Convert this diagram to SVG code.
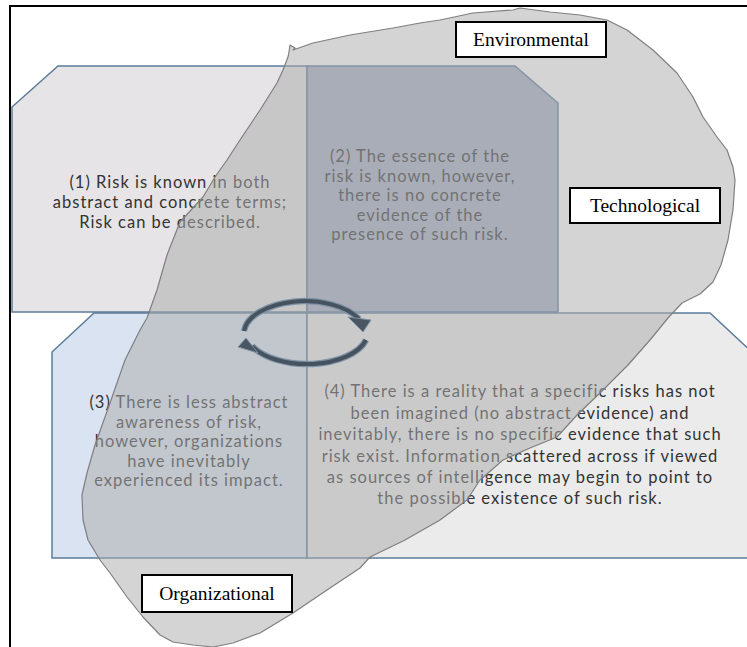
<svg xmlns="http://www.w3.org/2000/svg" width="747" height="647" viewBox="0 0 747 647">
  <defs>
    <style>
      .box { stroke: #5b7b9b; stroke-width: 1.5; }
      .body { font-family: "Lato", "Open Sans", sans-serif; font-size: 16.5px; letter-spacing: 1px; fill: #333333; text-anchor: middle; }
      .lbl rect { fill: #ffffff; stroke: #000000; stroke-width: 2; }
      .lbl text { font-family: "Liberation Serif", "Times New Roman", serif; font-size: 19.5px; fill: #000000; text-anchor: middle; }
      .arc { fill: none; stroke-linecap: butt; }
      .arc-out { stroke: #7d92a6; stroke-width: 6.5; }
      .arc-in { stroke: #46525e; stroke-width: 4; }
      .head { fill: #4a5763; stroke: #7d92a6; stroke-width: 1; }
    </style>
  </defs>
  <rect x="0" y="0" width="747" height="647" fill="#ffffff"/>
  <g id="frame" fill="none" stroke="#000000" stroke-width="2">
    <path d="M10,647 L10,6 L747,6"/>
  </g>

  <g id="node-q1">
    <polygon class="box" points="58,66 307,66 307,312 12,312 12,107" fill="#e6e4e6"/>
    <text class="body"><tspan x="170" y="188">(1) Risk is known in both</tspan><tspan x="170" y="208">abstract and concrete terms;</tspan><tspan x="170" y="228">Risk can be described.</tspan></text>
  </g>
  <g id="node-q2">
    <polygon class="box" points="307,66 515,66 558,103 558,312 307,312" fill="#a5adc4"/>
    <text class="body"><tspan x="420" y="162">(2) The essence of the</tspan><tspan x="420" y="181.5">risk is known, however,</tspan><tspan x="420" y="201">there is no concrete</tspan><tspan x="420" y="220.5">evidence of the</tspan><tspan x="420" y="240">presence of such risk.</tspan></text>
  </g>
  <g id="node-q3">
    <polygon class="box" points="94,313 307,313 307,558 52,558 52,352" fill="#dae3f1"/>
    <text class="body"><tspan x="189" y="408">(3) There is less abstract</tspan><tspan x="189" y="427.5">awareness of risk,</tspan><tspan x="189" y="447">however, organizations</tspan><tspan x="189" y="466.5">have inevitably</tspan><tspan x="189" y="486">experienced its impact.</tspan></text>
  </g>
  <g id="node-q4">
    <polygon class="box" points="307,313 710,313 755,355 755,558 307,558" fill="#ebebeb"/>
    <text class="body"><tspan x="520" y="397">(4) There is a reality that a specific risks has not</tspan><tspan x="520" y="418.5">been imagined (no abstract evidence) and</tspan><tspan x="520" y="440">inevitably, there is no specific evidence that such</tspan><tspan x="520" y="461.5">risk exist. Information scattered across if viewed</tspan><tspan x="520" y="483">as sources of intelligence may begin to point to</tspan><tspan x="520" y="504">the possible existence of such risk.</tspan></text>
  </g>

  <g id="node-blob">
    <path d="M289,52 L290,45 L295,48 L293,50 L313,43 L350,35 L393,28 L420,23 L440,20 L473,13 L513,10 L520,8 L550,12 L580,15 L607,20 L627,30 L653,50 L677,73 L693,97 L703,117 L717,137 L727,150 L733,167 L735,180 L733,210 L728,240 L721,265 L713,282 L700,294 L682,303 L668,318 L650,340 L628,365 L600,393 L577,415 L557,437 L530,448 L503,460 L480,480 L467,500 L440,520 L405,540 L370,557 L360,568 L327,590 L293,613 L260,633 L233,643 L213,647 L193,645 L173,642 L160,635 L143,617 L127,597 L110,573 L100,560 L88,540 L83,520 L82,495 L87,473 L95,445 L110,403 L125,360 L140,330 L147,318 L157,290 L167,255 L180,222 L203,197 L215,177 L227,160 L240,140 L260,110 L277,83 L283,70 L288,57 Z" fill="#adadad" fill-opacity="0.52" stroke="#7f7f7f" stroke-width="1.2" stroke-linejoin="round"/>
  </g>

  <g id="connectors">
    <path class="arc arc-out" d="M244,331 A 61,33 0 0 1 359,319"/>
    <path class="arc arc-in" d="M244,331 A 61,33 0 0 1 359,319"/>
    <polygon class="head" points="348,317 371,320 363,332"/>
    <path class="arc arc-out" d="M366,340 A 61,32 0 0 1 252,346"/>
    <path class="arc arc-in" d="M366,340 A 61,32 0 0 1 252,346"/>
    <polygon class="head" points="246,338 258,353 238,347"/>
  </g>

  <g id="label-environmental" class="lbl">
    <rect x="456" y="22" width="150" height="35"/>
    <text x="531" y="46">Environmental</text>
  </g>
  <g id="label-technological" class="lbl">
    <rect x="570" y="188" width="150" height="35"/>
    <text x="645" y="212">Technological</text>
  </g>
  <g id="label-organizational" class="lbl">
    <rect x="142" y="575" width="150" height="37"/>
    <text x="217" y="600">Organizational</text>
  </g>
</svg>
